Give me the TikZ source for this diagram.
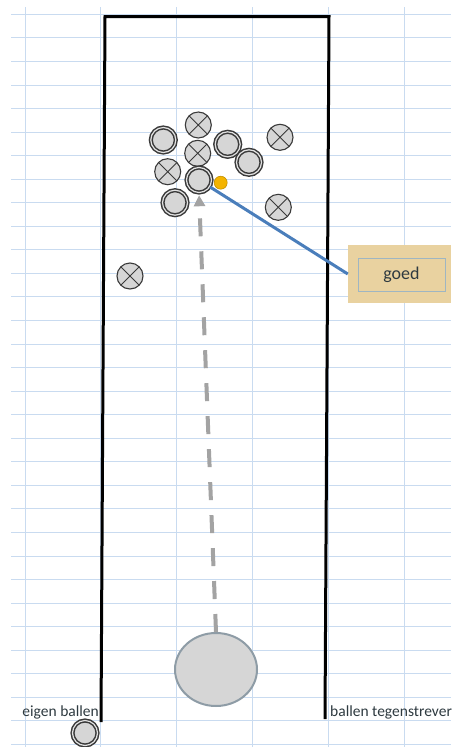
\documentclass[tikz,border=0pt]{standalone}
\usepackage{fontspec}
\setmainfont{Carlito}
\usetikzlibrary{arrows.meta,shapes.geometric}
\definecolor{gridblue}{HTML}{C9DBF0}
\definecolor{ballfill}{HTML}{D6D6D6}
\definecolor{balledge}{HTML}{3A3A3A}
\definecolor{shotgray}{HTML}{A3A3A3}
\definecolor{bigedge}{HTML}{8E9CA6}
\definecolor{lineblue}{HTML}{4A7EBB}
\definecolor{tan}{HTML}{E9D2A0}
\definecolor{innerline}{HTML}{9FB6C2}
\definecolor{txt}{HTML}{2E3A40}
\definecolor{jackfill}{HTML}{F4B400}
\tikzset{
  gridline/.style={draw=gridblue, line width=0.9pt},
  court/.style={draw=black, line width=3pt, line join=miter},
  ownball/.style={circle, minimum size=25pt, inner sep=0pt, fill=ballfill,
    draw=balledge, line width=1.5pt, double=ballfill!70!white, double distance=1.2pt},
  xball/.style={circle, minimum size=26pt, inner sep=0pt, fill=ballfill,
    draw=balledge, line width=1.1pt,
    path picture={\draw[balledge, line width=0.9pt]
      (path picture bounding box.north west) -- (path picture bounding box.south east)
      (path picture bounding box.north east) -- (path picture bounding box.south west);}},
  jack/.style={circle, minimum size=13pt, inner sep=0pt, fill=jackfill, draw=jackfill!80!black, line width=0.6pt},
  bigball/.style={ellipse, minimum width=82pt, minimum height=73pt, inner sep=0pt,
    fill=ballfill, draw=bigedge, line width=2pt},
  shot/.style={draw=shotgray, line width=4pt, dash pattern=on 18pt off 15pt,
    -{Triangle[length=11pt,width=11pt]}, shorten >=2pt},
  blueline/.style={draw=lineblue, line width=3pt},
  goedbox/.style={rectangle, minimum width=103pt, minimum height=58pt, inner sep=0pt, fill=tan},
  innerbox/.style={rectangle, minimum width=87pt, minimum height=33pt, inner sep=0pt,
    draw=innerline, line width=0.6pt, text=txt, font=\fontsize{18}{20}\selectfont},
  lbl/.style={inner sep=0pt, text=txt, font=\fontsize{15.5}{17}\selectfont}
}
\begin{document}
\begin{tikzpicture}[x=1pt,y=-1pt]
\useasboundingbox (0,0) rectangle (451,747);
\fill[white] (0,0) rectangle (451,747);
% spreadsheet grid
\foreach \k in {0,...,31} \draw[gridline] (11,14.3+23.55*\k) -- (451,14.3+23.55*\k);
\foreach \k in {0,...,5} \draw[gridline] (25+75.8*\k,7) -- (25+75.8*\k,747);
% court
\draw[court] (101,722) -- (105,16.5) -- (329,16.5) -- (325,719);
% labels
\node[lbl, anchor=east] (own) at (99,712) {eigen ballen};
\node[lbl, anchor=west] (opp) at (330,712) {ballen tegenstrever};
% balls
\node[xball] (x1) at (198.3,125) {};
\node[ownball] (o1) at (163.3,140) {};
\node[xball] (x2) at (197.7,153.3) {};
\node[ownball] (o2) at (227.7,144.3) {};
\node[ownball] (o3) at (249,162.3) {};
\node[xball] (x3) at (280,137.3) {};
\node[xball] (x4) at (167.7,171.7) {};
\node[ownball] (target) at (199,180) {};
\node[jack] (jack) at (220.7,182.7) {};
\node[ownball] (o4) at (175,202.7) {};
\node[xball] (x5) at (278.3,207.3) {};
\node[xball] (x6) at (130,276) {};
\node[ownball] (o5) at (85,733) {};
% big ball
\node[bigball] (big) at (216,669.5) {};
% shot
\draw[shot] (big.north) -- (target.south);
% goed box
\node[goedbox] (goed) at (399.5,274) {};
\node[innerbox] (goedtext) at (401.5,274.5) {goed};
\draw[blueline] (target) -- (goed.west);
\end{tikzpicture}
\end{document}
